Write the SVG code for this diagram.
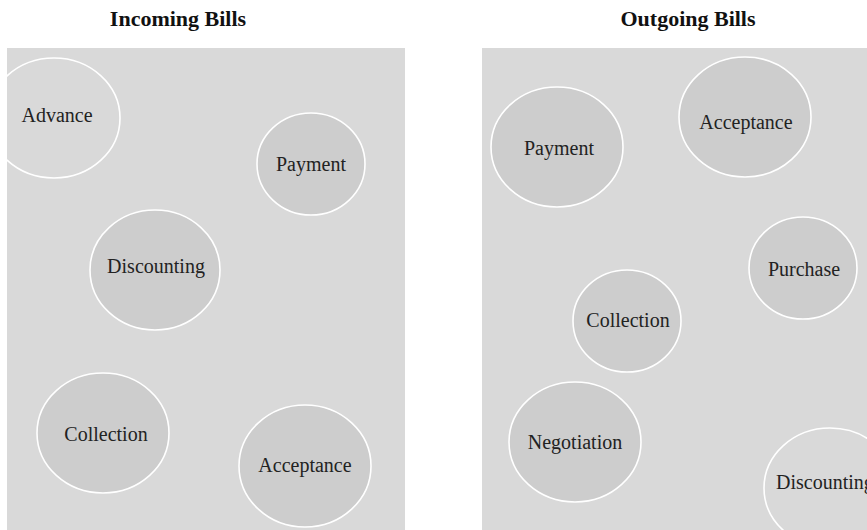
<svg xmlns="http://www.w3.org/2000/svg" width="867" height="530" viewBox="0 0 867 530">
<style>
.panel{fill:#d9d9d9}
.n{fill:#cdcdcd;stroke:#ffffff;stroke-width:1.6}
.n2{fill:#d9d9d9;stroke:#ffffff;stroke-width:1.6}
.t{font-family:"Liberation Serif","Times New Roman",serif;font-size:20px;fill:#222;text-anchor:middle}
.h{font-family:"Liberation Serif","Times New Roman",serif;font-size:22px;font-weight:bold;fill:#111;text-anchor:middle}
</style>
<defs>
<clipPath id="cl"><rect x="7" y="48" width="398" height="482"/></clipPath>
<clipPath id="cr"><rect x="482" y="48" width="385" height="482"/></clipPath>
</defs>
<rect width="867" height="530" fill="#ffffff"/>
<text class="h" x="178" y="26">Incoming Bills</text>
<text class="h" x="688" y="26">Outgoing Bills</text>
<g id="incoming" clip-path="url(#cl)">
<rect class="panel" x="7" y="48" width="398" height="482"/>
<g id="in-advance"><ellipse class="n2" cx="54" cy="118" rx="66" ry="60"/><text class="t" x="57" y="122">Advance</text></g>
<g id="in-payment"><ellipse class="n" cx="311" cy="164" rx="54" ry="51"/><text class="t" x="311" y="171">Payment</text></g>
<g id="in-discounting"><ellipse class="n" cx="155" cy="270" rx="65" ry="60"/><text class="t" x="156" y="273">Discounting</text></g>
<g id="in-collection"><ellipse class="n" cx="103" cy="433" rx="66" ry="60"/><text class="t" x="106" y="441">Collection</text></g>
<g id="in-acceptance"><ellipse class="n" cx="305" cy="466" rx="66" ry="61"/><text class="t" x="305" y="472">Acceptance</text></g>
</g>
<g id="outgoing" clip-path="url(#cr)">
<rect class="panel" x="482" y="48" width="385" height="482"/>
<g id="out-payment"><ellipse class="n" cx="557" cy="147" rx="66" ry="60"/><text class="t" x="559" y="155">Payment</text></g>
<g id="out-acceptance"><ellipse class="n" cx="745" cy="117" rx="66" ry="60"/><text class="t" x="746" y="129">Acceptance</text></g>
<g id="out-purchase"><ellipse class="n" cx="803" cy="268" rx="54" ry="51"/><text class="t" x="804" y="276">Purchase</text></g>
<g id="out-collection"><ellipse class="n" cx="627" cy="321" rx="54" ry="51"/><text class="t" x="628" y="327">Collection</text></g>
<g id="out-negotiation"><ellipse class="n" cx="575" cy="442" rx="66" ry="60"/><text class="t" x="575" y="449">Negotiation</text></g>
<g id="out-discounting"><ellipse class="n2" cx="830" cy="488" rx="66" ry="60"/><text class="t" x="776" y="489" style="text-anchor:start">Discounting</text></g>
</g>
</svg>
